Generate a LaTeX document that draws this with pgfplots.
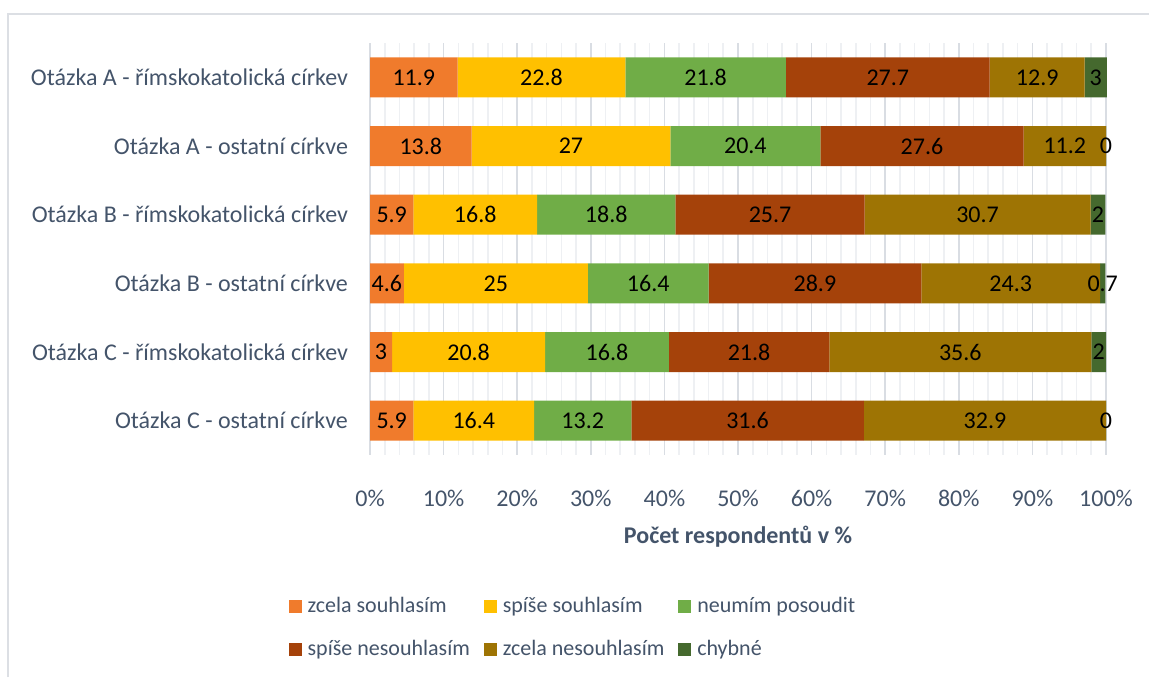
\documentclass[border=0pt]{standalone}
\usepackage{pgfplots}
\usepackage{pgfplotstable}
\pgfplotsset{compat=1.18}
\usepackage{fontspec}
\setmainfont{Carlito}

\definecolor{txt}{HTML}{44546A}
\definecolor{gridmaj}{HTML}{D9DDE3}
\definecolor{gridmin}{HTML}{EEF0F3}
\definecolor{frame}{HTML}{DCDFE4}
\definecolor{c1}{HTML}{F07B2C}
\definecolor{c2}{HTML}{FFC000}
\definecolor{c3}{HTML}{70AD47}
\definecolor{c4}{HTML}{A5420A}
\definecolor{c5}{HTML}{9E7404}
\definecolor{c6}{HTML}{45692E}

% one row per bar, top to bottom (0.001 stands for 0, so that its label is drawn)
\pgfplotstableread{
cat s1   s2   s3   s4   s5   s6
0   11.9 22.8 21.8 27.7 12.9 3
1   13.8 27   20.4 27.6 11.2 0.001
2   5.9  16.8 18.8 25.7 30.7 2
3   4.6  25   16.4 28.9 24.3 0.7
4   3    20.8 16.8 21.8 35.6 2
5   5.9  16.4 13.2 31.6 32.9 0.001
}\datatable

\newcommand\fs{\fontsize{12}{14.4}\selectfont}

\pgfplotsset{
  sq/.style={legend image code/.code={
      \path[##1,draw=none] (0pt,-3.2pt) rectangle (6.4pt,3.2pt);}},
  lab/.style={
      visualization depends on=rawx \as \rawx,
      nodes near coords={\pgfmathprintnumber[fixed,precision=1]{\rawx}},
      every node near coord/.append style={
          anchor=center, text=black, font=\fs, inner sep=0pt}},
  bb/.style={draw=none, fill=#1, sq, lab},
}

\begin{document}
\begin{tikzpicture}
\useasboundingbox (0,0) rectangle (574.5pt,338.5pt);
\draw[frame, line width=0.6pt] (4pt,0) -- (4pt,331.5pt) -- (574.5pt,331.5pt);
\begin{axis}[
    at={(185pt,111pt)}, anchor=south west,
    scale only axis, width=368pt, height=206pt,
    xbar stacked, bar width=20pt,
    xmin=0, xmax=100, ymin=-0.5, ymax=5.5,
    y dir=reverse,
    clip=false,
    axis lines*=left,
    x axis line style={draw=none},
    y axis line style={draw=gridmaj, line width=0.8pt},
    major tick length=0pt, minor tick length=0pt,
    xtick={0,10,...,100}, minor x tick num=4,
    xmajorgrids, xminorgrids,
    major grid style={gridmaj, line width=0.8pt},
    minor grid style={gridmin, line width=0.8pt},
    ytick={0,...,5},
    yticklabels={Otázka A - římskokatolická církev, Otázka A - ostatní církve,
      Otázka B - římskokatolická církev, Otázka B - ostatní církve,
      Otázka C - římskokatolická církev, Otázka C - ostatní církve},
    xticklabel={\pgfmathprintnumber{\tick}\%},
    /pgf/number format/assume math mode=true,
    tick label style={font=\fs, text=txt},
    yticklabel style={xshift=-7.5pt},
    xticklabel style={yshift=-14pt},
    xlabel={\textbf{Počet respondentů v \%}},
    xlabel style={at={(axis description cs:0.5,-0.199)}, anchor=center,
      font=\fs, text=txt},
    legend columns=3,
    legend cell align=left,
    legend style={at={(-0.119,-0.325)}, anchor=north west, draw=none,
      font=\fontsize{11}{13.2}\selectfont, text=txt, row sep=8.5pt,
      /tikz/every odd column/.append style={column sep=1pt},
      /tikz/every even column/.append style={column sep=5pt}},
]
\addplot[bb=c1] table[x=s1, y=cat] {\datatable};
\addplot[bb=c2] table[x=s2, y=cat] {\datatable};
\addplot[bb=c3] table[x=s3, y=cat] {\datatable};
\addplot[bb=c4] table[x=s4, y=cat] {\datatable};
\addplot[bb=c5] table[x=s5, y=cat] {\datatable};
\addplot[bb=c6] table[x=s6, y=cat] {\datatable};
\legend{zcela souhlasím, spíše souhlasím, neumím posoudit,
  spíše nesouhlasím, zcela nesouhlasím, chybné}
\end{axis}
\end{tikzpicture}
\end{document}
